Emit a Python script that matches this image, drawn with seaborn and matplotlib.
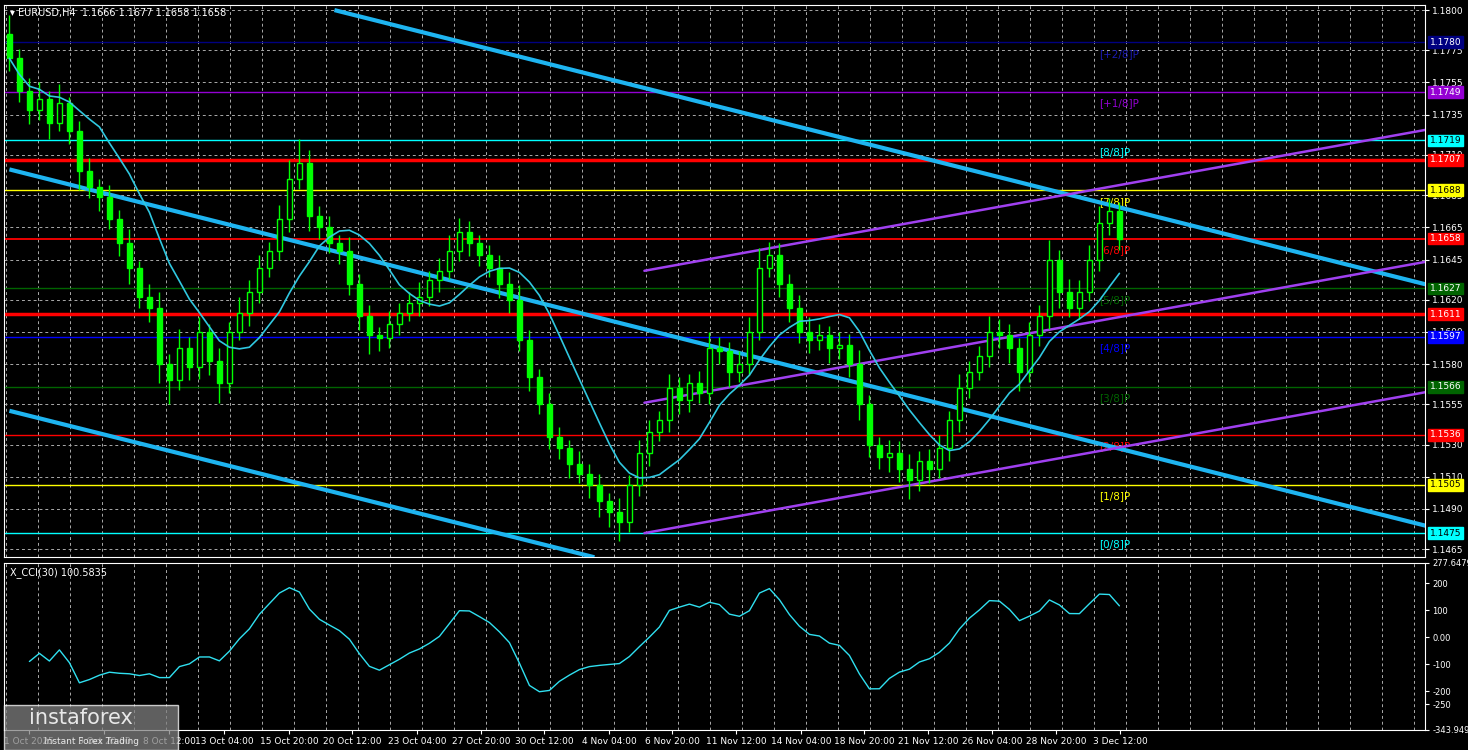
import numpy as np
import pandas as pd
import matplotlib
matplotlib.use("Agg")
import matplotlib.pyplot as plt
import seaborn as sns

closes = [1.1770,1.1750,1.1738,1.1745,1.1730,1.1742,1.1725,1.1700,1.1690,1.1684,
          1.1670,1.1655,1.1640,1.1622,1.1615,1.1580,1.1570,1.1590,1.1578,1.1600,
          1.1582,1.1568,1.1600,1.1612,1.1625,1.1640,1.1650,1.1670,1.1695,1.1705,
          1.1672,1.1665,1.1655,1.1650,1.1630,1.1610,1.1598,1.1596,1.1605,1.1612,
          1.1618,1.1622,1.1632,1.1638,1.1650,1.1662,1.1655,1.1648,1.1640,1.1630,
          1.1620,1.1595,1.1572,1.1555,1.1535,1.1528,1.1518,1.1512,1.1505,1.1495,
          1.1488,1.1482,1.1505,1.1525,1.1538,1.1545,1.1565,1.1558,1.1568,1.1562,
          1.1590,1.1588,1.1575,1.1580,1.1600,1.1640,1.1648,1.1630,1.1615,1.1600,
          1.1595,1.1598,1.1590,1.1592,1.1580,1.1555,1.1530,1.1522,1.1525,1.1515,
          1.1508,1.1520,1.1515,1.1528,1.1545,1.1565,1.1575,1.1585,1.1600,1.1598,
          1.1590,1.1575,1.1598,1.1610,1.1645,1.1625,1.1615,1.1625,1.1645,1.1668,
          1.1675,1.1658]
first_open = 1.1785
wick_up = [12,6,8,10,5,12,4,6,8,5,7,6,9,4,8,10,6,12,7,9,5,8,6,10,7,8,6,9,12,15,
           8,6,7,5,9,6,7,5,8,6,7,9,6,8,10,9,7,5,6,8,7,9,6,5,7,6,5,8,6,7,
           5,9,6,8,7,6,9,7,6,8,10,7,6,8,9,12,8,7,6,8,9,7,6,8,7,9,6,5,8,7,
           9,6,7,8,6,9,7,6,10,8,7,6,8,7,12,6,8,7,9,10,8,6]
wick_dn = [8,7,9,6,10,5,8,12,7,9,6,8,10,7,9,12,15,6,8,7,9,12,6,5,8,7,6,5,8,6,
           9,7,6,8,7,9,12,8,6,7,5,8,6,7,5,6,8,7,6,9,8,7,9,6,8,7,9,6,8,10,
           9,12,6,7,8,6,7,9,8,6,7,8,9,6,7,5,6,8,9,7,8,6,9,7,8,10,8,7,9,8,
           12,7,9,6,8,7,6,5,7,8,9,12,6,7,8,10,6,7,6,7,8,7]
level_vals = [1.1780,1.1749,1.1719,1.1707,1.1688,1.1658,1.1627,1.1611,1.1597,1.1566,1.1536,1.1505,1.1475]
level_cols = ['#000080','#9400d3','#00ffff','#ff0000','#ffff00','#ff0000','#006400','#ff0000','#0000ff','#006400','#ff0000','#ffff00','#00ffff']
level_lw = [1,1,1,2.5,1,1.3,1,2.5,1,1,1,1,1]
level_tags = ['[+2/8]P','[+1/8]P','[8/8]P',None,'[7/8]P','[6/8]P','[5/8]P',None,'[4/8]P','[3/8]P','[2/8]P','[1/8]P','[0/8]P']
blue_lines = [((32.5,1.1800),(142,1.1629)),((0,1.1701),(142,1.1479)),((0,1.1551),(58.5,1.1460))]
purple_lines = [((63.5,1.1638),(142,1.1726)),((63.5,1.1556),(142,1.1644)),((63.5,1.1475),(142,1.1563))]
price_ticks = [1.1800,1.1775,1.1755,1.1735,1.1710,1.1685,1.1665,1.1645,1.1620,1.1600,1.1580,1.1555,1.1530,1.1510,1.1490,1.1465]
xlabels = ['1 Oct 2025','3 Oct 20:00','8 Oct 12:00','13 Oct 04:00','15 Oct 20:00','20 Oct 12:00','23 Oct 04:00',
           '27 Oct 20:00','30 Oct 12:00','4 Nov 04:00','6 Nov 20:00','11 Nov 12:00','14 Nov 04:00','18 Nov 20:00',
           '21 Nov 12:00','26 Nov 04:00','28 Nov 20:00','3 Dec 12:00']
xlabel_pos = [2.0,9.5,16.0,21.5,28.0,34.3,40.8,47.2,53.5,60.0,66.3,72.7,79.2,85.5,91.9,98.3,104.7,111.1]
cci_ticks = [277.6479,200,100,0,-100,-200,-250,-343.949]
cci_labels = ['277.6479','200','100','0.00','-100','-200','-250','-343.949']

sns.set_style("dark")
plt.rcParams['font.family'] = ['DejaVu Sans']
fig = plt.figure(figsize=(14.68,7.5), dpi=100, facecolor='black')
ax = fig.add_axes([0.003, 0.257, 0.968, 0.736], facecolor='black')
ax2 = fig.add_axes([0.003, 0.027, 0.968, 0.223], facecolor='black')

n = len(closes)
idx = np.arange(n)
c = np.array(closes)
o = np.concatenate([[first_open], c[:-1]])
h = np.maximum(o, c) + np.array(wick_up)*0.0001
l = np.minimum(o, c) - np.array(wick_dn)*0.0001
xl = (-0.5, 141.6)

for a in (ax, ax2):
    a.set_xlim(*xl)
    for s in a.spines.values():
        s.set_color('white')
    a.grid(False)
    a.set_xticks(np.arange(-0.3, 142, 3.2), minor=True)
    a.xaxis.grid(True, which='minor', color='#aaaaaa', ls=(0,(3,3)), lw=0.7)
    a.yaxis.tick_right()
    a.tick_params(colors='white', labelsize=6.5, length=3, pad=2, which='both')
    a.tick_params(which='minor', length=0)

ax.set_ylim(1.1460, 1.1803)
ax.set_yticks(price_ticks)
ax.set_yticklabels([f"{v:.4f}" for v in price_ticks])
ax.yaxis.grid(True, color='#aaaaaa', ls=(0,(3,3)), lw=0.7)
ax.set_xticks([])

for v, col, lw, tag in zip(level_vals, level_cols, level_lw, level_tags):
    ax.axhline(v, color=col, lw=lw, zorder=2)
    ax.text(1.003, v, f"{v:.4f}", transform=ax.get_yaxis_transform(), color='black' if col in ('#00ffff','#ffff00') else 'white',
            fontsize=6.5, va='center', ha='left', bbox=dict(boxstyle='square,pad=0.15', fc=col, ec=col), clip_on=False, zorder=10)
    if tag:
        ax.text(109, v - 0.0004, tag, color=col if col != '#000080' else '#1a1ab0', fontsize=7.5, va='top', zorder=3)

for (p1, p2) in blue_lines:
    ax.plot([p1[0], p2[0]], [p1[1], p2[1]], color='#1eb4f0', lw=3, zorder=3, solid_capstyle='butt')
for (p1, p2) in purple_lines:
    ax.plot([p1[0], p2[0]], [p1[1], p2[1]], color='#a040f0', lw=1.8, zorder=3)

ax.vlines(idx, l, h, color='#00ff00', lw=1, zorder=4)
bull = c >= o
ax.bar(idx[bull], (c-o)[bull], bottom=o[bull], width=0.45, color='black', edgecolor='#00ff00', lw=1, zorder=5)
ax.bar(idx[~bull], (o-c)[~bull], bottom=c[~bull], width=0.45, color='#00ff00', edgecolor='#00ff00', lw=1, zorder=5)

df = pd.DataFrame({'i': idx, 'close': c, 'tp': (h+l+c)/3})
df['ma'] = df['close'].rolling(10, min_periods=1).mean()
sns.lineplot(data=df, x='i', y='ma', ax=ax, color='#30c8e0', lw=1.2, zorder=6)
ax.set_xlabel(''); ax.set_ylabel('')
ax.text(0.004, 0.995, "\u25be EURUSD,H4  1.1666 1.1677 1.1658 1.1658", transform=ax.transAxes, color='white', fontsize=7, va='top')

sma = df['tp'].rolling(15, min_periods=3).mean()
md = df['tp'].rolling(15, min_periods=3).apply(lambda x: np.mean(np.abs(x - x.mean())), raw=True)
df['cci'] = (df['tp'] - sma) / (0.015 * md.replace(0, np.nan))
sns.lineplot(data=df, x='i', y='cci', ax=ax2, color='#30e0f0', lw=1)
ax2.set_xlabel(''); ax2.set_ylabel('')
ax2.set_ylim(-343.949, 277.6479)
ax2.set_yticks(cci_ticks)
ax2.set_yticklabels(cci_labels, fontsize=6)
ax2.set_yticks([200,100,0,-100,-200], minor=True)
ax2.yaxis.grid(True, which='minor', color='#aaaaaa', ls=(0,(3,3)), lw=0.7)
ax2.set_xticks(xlabel_pos)
ax2.set_xticklabels(xlabels, fontsize=6.5, color='white')
ax2.xaxis.tick_bottom()
ax2.tick_params(axis='x', length=3, colors='white')
ax2.text(0.004, 0.97, "X_CCI(30) 100.5835", transform=ax2.transAxes, color='white', fontsize=7, va='top')

fig.patches.append(plt.Rectangle((0.003, 0.0), 0.118, 0.06, transform=fig.transFigure, fc='#808080', alpha=0.75, zorder=20))
fig.text(0.02, 0.03, "instaforex", color='#e8e8e8', fontsize=15, va='bottom', ha='left', zorder=21)
fig.text(0.03, 0.006, "Instant Forex Trading", color='#e8e8e8', fontsize=6.5, va='bottom', ha='left', zorder=21)
fig.savefig('out.png', dpi=100, facecolor='black')
